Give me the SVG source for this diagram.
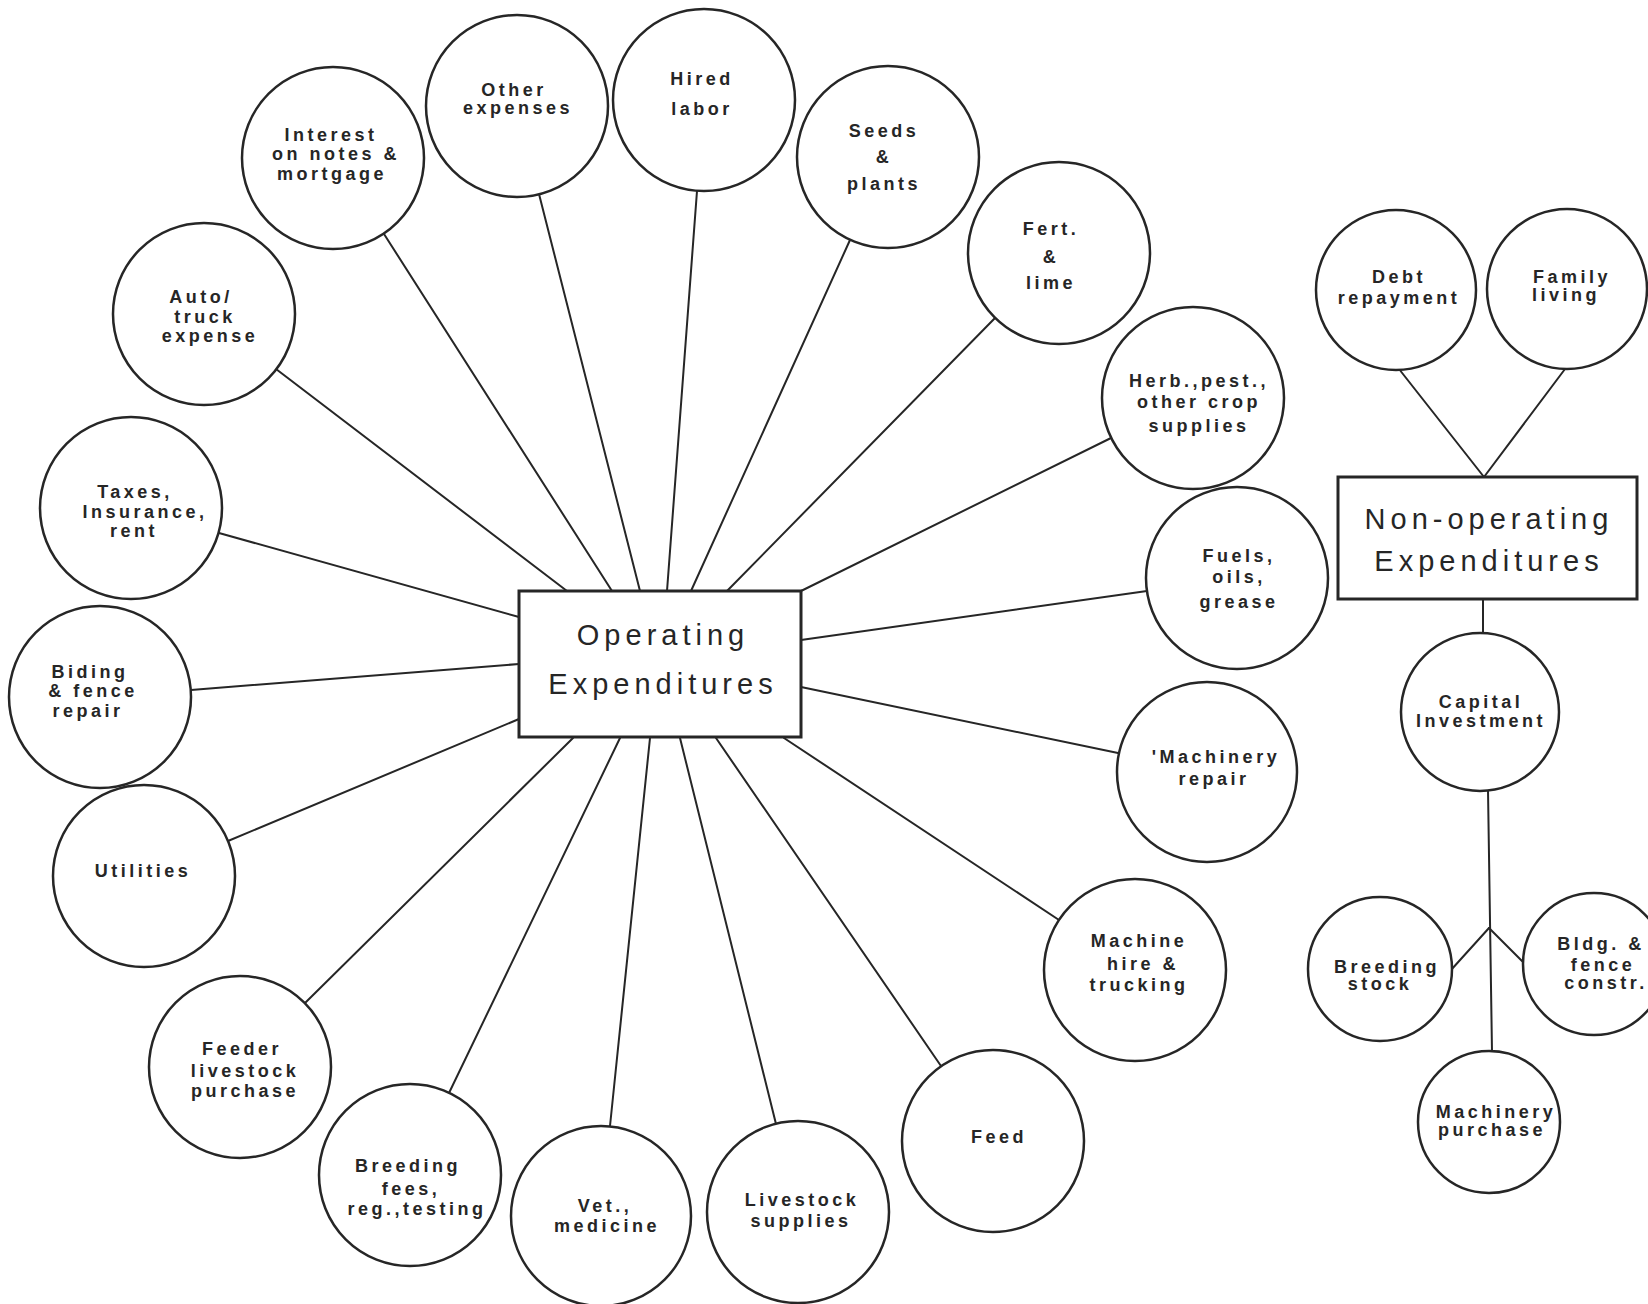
<svg xmlns="http://www.w3.org/2000/svg" width="1648" height="1304" viewBox="0 0 1648 1304">
<style>
.bg{fill:#ffffff}
.n{fill:#ffffff;stroke:#262626;stroke-width:2.5}
.box{fill:#ffffff;stroke:#262626;stroke-width:3}
.c{stroke:#262626;stroke-width:2;fill:none;stroke-linecap:round}
.t{font-family:"Liberation Sans",Arial,sans-serif;font-weight:bold;font-size:18px;letter-spacing:3.5px;fill:#262626;text-anchor:middle}
.T{font-family:"Liberation Sans",Arial,sans-serif;font-size:29px;letter-spacing:5px;fill:#262626;text-anchor:middle}
</style>
<rect class="bg" x="0" y="0" width="1648" height="1304"/>
<g id="connectors">
<line class="c" x1="567" y1="591" x2="276" y2="369"/>
<line class="c" x1="612" y1="591" x2="384" y2="234"/>
<line class="c" x1="640" y1="591" x2="539" y2="194"/>
<line class="c" x1="667" y1="591" x2="697" y2="191"/>
<line class="c" x1="691" y1="591" x2="850" y2="240"/>
<line class="c" x1="727" y1="591" x2="995" y2="318"/>
<line class="c" x1="801" y1="591" x2="1111" y2="438"/>
<line class="c" x1="801" y1="640" x2="1147" y2="591"/>
<line class="c" x1="801" y1="687" x2="1118" y2="753"/>
<line class="c" x1="784" y1="738" x2="1059" y2="920"/>
<line class="c" x1="716" y1="738" x2="941" y2="1066"/>
<line class="c" x1="680" y1="738" x2="776" y2="1124"/>
<line class="c" x1="650" y1="738" x2="610" y2="1126"/>
<line class="c" x1="620" y1="738" x2="449" y2="1093"/>
<line class="c" x1="573" y1="738" x2="305" y2="1003"/>
<line class="c" x1="519" y1="719" x2="228" y2="841"/>
<line class="c" x1="519" y1="664" x2="191" y2="690"/>
<line class="c" x1="519" y1="617" x2="219" y2="533"/>
<line class="c" x1="1399" y1="369" x2="1484" y2="477"/>
<line class="c" x1="1565" y1="369" x2="1484" y2="477"/>
<line class="c" x1="1483" y1="600" x2="1483" y2="634"/>
<line class="c" x1="1488" y1="790" x2="1492" y2="1052"/>
<line class="c" x1="1489" y1="928" x2="1451" y2="970"/>
<line class="c" x1="1489" y1="928" x2="1523" y2="962"/>
</g>
<g id="operating-expenditures">
<rect class="box" x="519" y="591" width="282" height="146"/>
<text class="T" x="663" y="645">Operating</text>
<text class="T" x="663" y="694">Expenditures</text>
</g>
<g id="non-operating-expenditures">
<rect class="box" x="1338" y="477" width="299" height="122"/>
<text class="T" x="1489" y="529">Non-operating</text>
<text class="T" x="1489" y="571">Expenditures</text>
</g>
<g id="interest">
<circle class="n" cx="333" cy="158" r="91"/>
<text class="t" x="331" y="141">Interest</text>
<text class="t" x="336" y="160">on notes &amp;</text>
<text class="t" x="332" y="180">mortgage</text>
</g>
<g id="other-expenses">
<circle class="n" cx="517" cy="106" r="91"/>
<text class="t" x="514" y="96">Other</text>
<text class="t" x="518" y="114">expenses</text>
</g>
<g id="hired-labor">
<circle class="n" cx="704" cy="100" r="91"/>
<text class="t" x="702" y="85">Hired</text>
<text class="t" x="702" y="115">labor</text>
</g>
<g id="seeds-plants">
<circle class="n" cx="888" cy="157" r="91"/>
<text class="t" x="884" y="137">Seeds</text>
<text class="t" x="884" y="163">&amp;</text>
<text class="t" x="884" y="190">plants</text>
</g>
<g id="fert-lime">
<circle class="n" cx="1059" cy="253" r="91"/>
<text class="t" x="1051" y="235">Fert.</text>
<text class="t" x="1051" y="263">&amp;</text>
<text class="t" x="1051" y="289">lime</text>
</g>
<g id="herb-pest">
<circle class="n" cx="1193" cy="398" r="91"/>
<text class="t" x="1199" y="387">Herb.,pest.,</text>
<text class="t" x="1199" y="408">other crop</text>
<text class="t" x="1199" y="432">supplies</text>
</g>
<g id="fuels">
<circle class="n" cx="1237" cy="578" r="91"/>
<text class="t" x="1239" y="562">Fuels,</text>
<text class="t" x="1239" y="583">oils,</text>
<text class="t" x="1239" y="608">grease</text>
</g>
<g id="machinery-repair">
<circle class="n" cx="1207" cy="772" r="90"/>
<text class="t" x="1216" y="763">'Machinery</text>
<text class="t" x="1214" y="785">repair</text>
</g>
<g id="machine-hire">
<circle class="n" cx="1135" cy="970" r="91"/>
<text class="t" x="1139" y="947">Machine</text>
<text class="t" x="1143" y="970">hire &amp;</text>
<text class="t" x="1139" y="991">trucking</text>
</g>
<g id="feed">
<circle class="n" cx="993" cy="1141" r="91"/>
<text class="t" x="999" y="1143">Feed</text>
</g>
<g id="livestock-supplies">
<circle class="n" cx="798" cy="1212" r="91"/>
<text class="t" x="802" y="1206">Livestock</text>
<text class="t" x="801" y="1227">supplies</text>
</g>
<g id="vet-medicine">
<circle class="n" cx="601" cy="1216" r="90"/>
<text class="t" x="605" y="1212">Vet.,</text>
<text class="t" x="607" y="1232">medicine</text>
</g>
<g id="breeding-fees">
<circle class="n" cx="410" cy="1175" r="91"/>
<text class="t" x="408" y="1172">Breeding</text>
<text class="t" x="411" y="1195">fees,</text>
<text class="t" x="417" y="1215">reg.,testing</text>
</g>
<g id="feeder-livestock">
<circle class="n" cx="240" cy="1067" r="91"/>
<text class="t" x="242" y="1055">Feeder</text>
<text class="t" x="245" y="1077">livestock</text>
<text class="t" x="245" y="1097">purchase</text>
</g>
<g id="utilities">
<circle class="n" cx="144" cy="876" r="91"/>
<text class="t" x="143" y="877">Utilities</text>
</g>
<g id="biding-fence-repair">
<circle class="n" cx="100" cy="697" r="91"/>
<text class="t" x="90" y="678">Biding</text>
<text class="t" x="93" y="697">&amp; fence</text>
<text class="t" x="88" y="717">repair</text>
</g>
<g id="taxes">
<circle class="n" cx="131" cy="508" r="91"/>
<text class="t" x="135" y="498">Taxes,</text>
<text class="t" x="145" y="518">Insurance,</text>
<text class="t" x="134" y="537">rent</text>
</g>
<g id="auto-truck">
<circle class="n" cx="204" cy="314" r="91"/>
<text class="t" x="201" y="303">Auto/</text>
<text class="t" x="205" y="323">truck</text>
<text class="t" x="210" y="342">expense</text>
</g>
<g id="debt-repayment">
<circle class="n" cx="1396" cy="290" r="80"/>
<text class="t" x="1399" y="283">Debt</text>
<text class="t" x="1399" y="304">repayment</text>
</g>
<g id="family-living">
<circle class="n" cx="1567" cy="289" r="80"/>
<text class="t" x="1572" y="283">Family</text>
<text class="t" x="1566" y="301">living</text>
</g>
<g id="capital-investment">
<circle class="n" cx="1480" cy="712" r="79"/>
<text class="t" x="1481" y="708">Capital</text>
<text class="t" x="1481" y="727">Investment</text>
</g>
<g id="breeding-stock">
<circle class="n" cx="1380" cy="969" r="72"/>
<text class="t" x="1387" y="973">Breeding</text>
<text class="t" x="1380" y="990">stock</text>
</g>
<g id="bldg-fence-constr">
<circle class="n" cx="1594" cy="964" r="71"/>
<text class="t" x="1601" y="950">Bldg. &amp;</text>
<text class="t" x="1603" y="971">fence</text>
<text class="t" x="1606" y="989">constr.</text>
</g>
<g id="machinery-purchase">
<circle class="n" cx="1489" cy="1122" r="71"/>
<text class="t" x="1496" y="1118">Machinery</text>
<text class="t" x="1492" y="1136">purchase</text>
</g>
</svg>
